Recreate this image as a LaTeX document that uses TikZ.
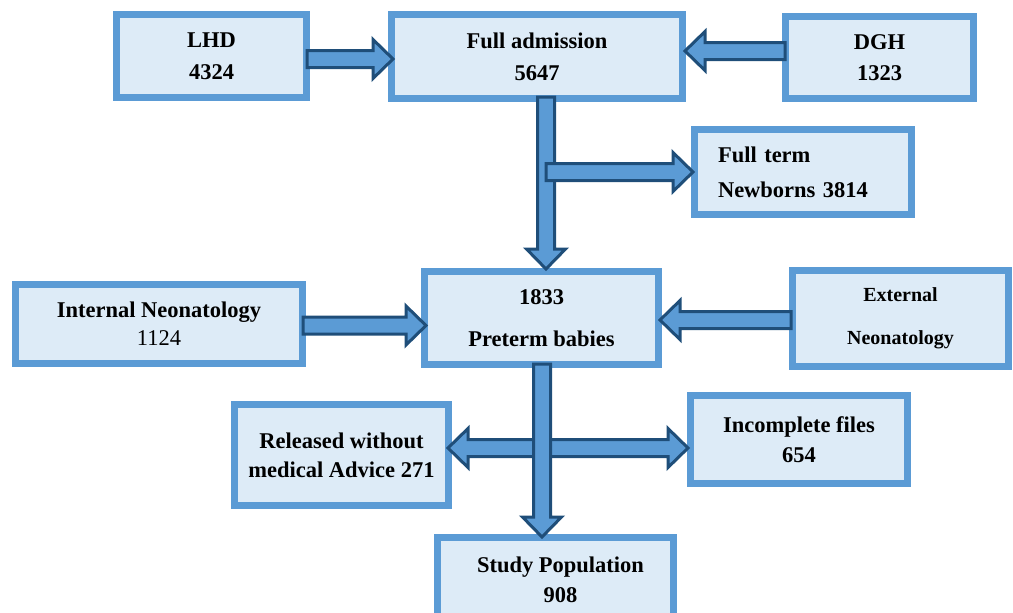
\documentclass[tikz,border=0pt]{standalone}
\usepackage{fontspec}
\setmainfont{Liberation Serif}
\usetikzlibrary{calc}
\definecolor{boxline}{HTML}{5B9BD5}
\definecolor{boxfill}{HTML}{DDEBF7}
\definecolor{arrline}{HTML}{1F4E79}
\definecolor{arrfill}{HTML}{5B9BD5}
% horizontal block arrow: #1 start, #2 tip, #3 direction (1 right, -1 left)
\newcommand\harr[3]{\draw[barrow] let \p1=(#1), \p2=(#2) in
  ({\x1},{\y1+8.5pt}) -- ({\x2-(#3)*20pt},{\y1+8.5pt}) -- ({\x2-(#3)*20pt},{\y1+19.5pt})
  -- ({\x2},{\y1}) -- ({\x2-(#3)*20pt},{\y1-19.5pt}) -- ({\x2-(#3)*20pt},{\y1-8.5pt})
  -- ({\x1},{\y1-8.5pt}) -- cycle;}
% vertical (downward) block arrow: #1 start, #2 tip
\newcommand\varr[2]{\draw[barrow] let \p1=(#1), \p2=(#2) in
  ({\x1-8.5pt},{\y1}) -- ({\x1-8.5pt},{\y2+20pt}) -- ({\x1-19.5pt},{\y2+20pt})
  -- ({\x1},{\y2}) -- ({\x1+19.5pt},{\y2+20pt}) -- ({\x1+8.5pt},{\y2+20pt})
  -- ({\x1+8.5pt},{\y1}) -- cycle;}
\begin{document}
\begin{tikzpicture}[x=1pt,y=-1pt,
  box/.style={draw=boxline, line width=7pt, fill=boxfill, align=center,
    inner sep=0pt, font=\fontsize{22.5}{29}\selectfont\bfseries},
  barrow/.style={draw=arrline, fill=arrfill, line width=3pt, line join=miter}]
\useasboundingbox (0,0) rectangle (1013,613);

\node[box, minimum width=190pt, minimum height=83pt] (lhd) at (211.5,56) {LHD\\[3pt]4324};
\node[box, minimum width=291pt, minimum height=84pt] (full) at (537,56.5) {Full admission\\[3pt]5647};
\node[box, minimum width=188pt, minimum height=82pt] (dgh) at (879.5,57.5) {DGH\\[2pt]1323};
\node[box, minimum width=217pt, minimum height=85pt, align=left, text width=170pt] (fullterm) at (803,172) {Full term\\[6pt]Newborns 3814};
\node[box, minimum width=234pt, minimum height=93pt] (preterm) at (541.5,318) {1833\\[13pt]Preterm babies};
\node[box, minimum width=287pt, minimum height=79pt] (internal) at (159,324) {Internal Neonatology\\[-1pt]{\mdseries 1124}};
\node[box, minimum width=216pt, minimum height=96pt, font=\fontsize{20}{26}\selectfont\bfseries] (external) at (900.5,318.5) {External\\[17pt]Neonatology};
\node[box, minimum width=214pt, minimum height=101pt] (released) at (341.5,455) {Released without\\medical Advice 271};
\node[box, minimum width=217pt, minimum height=88pt] (incomplete) at (799,439.5) {Incomplete files\\[1pt]654};
\node[box, minimum width=236pt, minimum height=84pt] (study) at (555.5,579.5) {\hspace*{10pt}Study Population\\[1pt]\hspace*{10pt}908};

% LHD -> Full admission
\coordinate (a1s) at ($(lhd.east)+(-3,3)$);
\coordinate (a1e) at ($(full.west)+(5,0)$);
\harr{a1s}{a1e}{1}
% DGH -> Full admission
\coordinate (a2s) at ($(dgh.west)+(3,-6.5)$);
\coordinate (a2e) at ($(full.east)+(-1,0)$);
\harr{a2s}{a2e}{-1}
% Full admission -> Preterm, branch to Full term
\coordinate (v1s) at ($(full.south)+(9,-5)$);
\coordinate (v1e) at ($(v1s |- preterm.north)+(0,1)$);
\varr{v1s}{v1e}
\coordinate (b1s) at (v1s |- fullterm.west);
\coordinate (b1e) at ($(fullterm.west)+(2,0)$);
\harr{b1s}{b1e}{1}
% Internal -> Preterm
\coordinate (a3s) at ($(internal.east)+(-3,1.5)$);
\coordinate (a3e) at ($(preterm.west)+(5,0)$);
\harr{a3s}{a3e}{1}
% External -> Preterm
\coordinate (a4s) at ($(external.west)+(2,1.5)$);
\coordinate (a4e) at ($(preterm.east)+(-2,0)$);
\harr{a4s}{a4e}{-1}
% Preterm -> Released / Incomplete / Study
\coordinate (v2s) at ($(preterm.south)+(0.5,-4)$);
\coordinate (v2e) at ($(v2s |- study.north)+(0,3)$);
\coordinate (s2) at ($(preterm.south)+(0.5,80)$);
\coordinate (d1e) at ($(released.east)+(-4,0)$);
\coordinate (d2e) at ($(incomplete.west)+(1,0)$);
\harr{s2}{d1e}{-1}
\harr{s2}{d2e}{1}
\varr{v2s}{v2e}
\end{tikzpicture}
\end{document}
